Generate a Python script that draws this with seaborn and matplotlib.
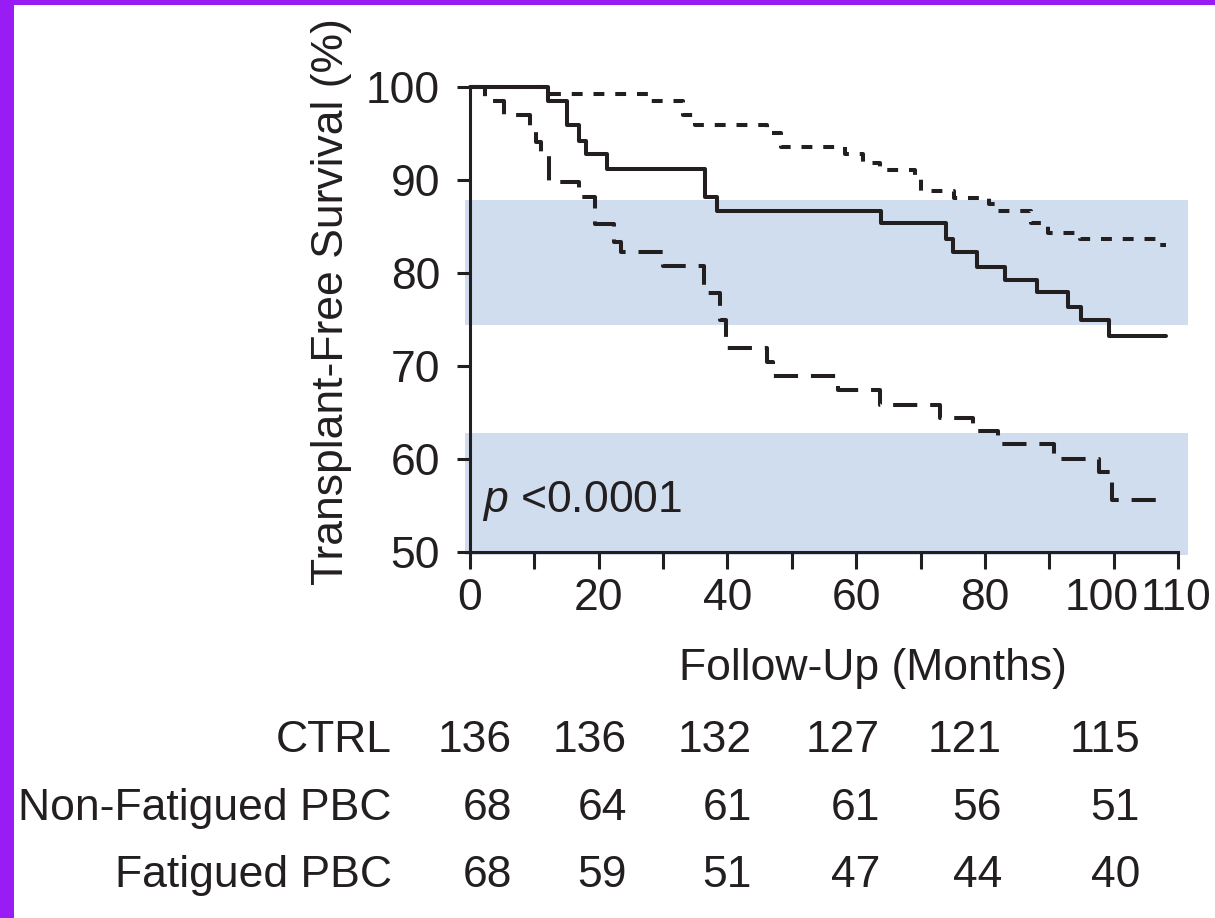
import matplotlib
matplotlib.use("Agg")
import matplotlib.pyplot as plt
import matplotlib.transforms as mtransforms
import seaborn as sns
from matplotlib.patches import Rectangle

# Kaplan-Meier step curves (months, % survival)
ctrl_time = [0, 12.1, 28.1, 33.1, 34.9, 46.1, 48.3, 58.2, 61.1, 63.7, 69.1, 70.0,
             75.2, 80.6, 82.0, 87.2, 89.8, 94.7, 107.1, 108.2]
ctrl_surv = [100, 99.2, 98.5, 97.0, 95.9, 95.0, 93.5, 92.8, 91.8, 91.1, 90.4, 88.8,
             88.1, 87.4, 86.7, 85.4, 84.3, 83.7, 83.0, 83.0]

nonfat_time = [0, 12.1, 15.1, 17.0, 18.0, 21.3, 36.5, 38.4, 63.8, 74.0, 75.0, 78.8,
               83.1, 88.1, 92.9, 95.0, 99.3, 108.2]
nonfat_surv = [100, 98.5, 95.9, 94.2, 92.8, 91.2, 88.2, 86.7, 85.4, 83.7, 82.3, 80.6,
               79.3, 78.0, 76.3, 74.9, 73.2, 73.2]

fat_time = [0, 2.3, 5.3, 9.3, 10.2, 11.1, 12.2, 17.0, 19.4, 22.4, 23.5, 30.0, 36.4,
            38.8, 39.7, 46.1, 47.0, 57.1, 63.7, 73.0, 78.2, 82.0, 90.8, 97.8, 99.7, 108.2]
fat_surv = [100, 98.5, 97.0, 95.6, 94.1, 92.7, 89.8, 88.2, 85.3, 83.3, 82.3, 80.7, 77.9,
            75.0, 71.9, 70.4, 68.9, 67.4, 65.8, 64.4, 63.0, 61.6, 60.0, 58.6, 55.6, 55.6]

# shaded bands (y ranges)
band_ranges = [(74.4, 87.9), (49.7, 62.8)]

x_ticks = [0, 10, 20, 30, 40, 50, 60, 70, 80, 90, 100, 110]
x_tick_labels = ["0", "", "20", "", "40", "", "60", "", "80", "", "100", "110"]
y_ticks = [50, 60, 70, 80, 90, 100]

# number at risk table
risk_groups = ["CTRL", "Non-Fatigued PBC", "Fatigued PBC"]
risk_ctrl = [136, 136, 132, 127, 121, 115]
risk_nonfat = [68, 64, 61, 61, 56, 51]
risk_fat = [68, 59, 51, 47, 44, 40]

ink = "#231f20"
band_col = "#d0ddee"

sns.set_theme(style="ticks")
plt.rcParams["font.family"] = ["Liberation Sans", "DejaVu Sans"]
plt.rcParams["mathtext.fontset"] = "custom"
plt.rcParams["mathtext.it"] = "Liberation Sans:italic"
plt.rcParams["mathtext.rm"] = "Liberation Sans"
fs = 32

W, H = 1215, 918
fig = plt.figure(figsize=(W / 100, H / 100), dpi=100)
fig.patch.set_facecolor("#9a1cf5")
# white page inside the purple frame
fig.patches.append(Rectangle((14 / W, 0), 1, 1 - 5 / H, transform=fig.transFigure,
                             facecolor="white", edgecolor="none", zorder=-10))

ax = fig.add_axes([470 / W, 1 - 552 / H, 708 / W, 465 / H])
ax.patch.set_alpha(0)

for lo, hi in band_ranges:
    ax.fill_between([-0.8, 111.6], lo, hi, color=band_col, lw=0, zorder=0, clip_on=False)

curves = [
    (ctrl_time, ctrl_surv, (0, (2.7, 2.7))),
    (nonfat_time, nonfat_surv, "-"),
    (fat_time, fat_surv, (0, (6.0, 3.2))),
]
for t, s, ls in curves:
    sns.lineplot(x=t, y=s, ax=ax, drawstyle="steps-post", estimator=None, sort=False,
                 color=ink, lw=2.9, linestyle=ls, clip_on=False, zorder=3)

ax.set_xlim(0, 110)
ax.set_ylim(50, 100)
ax.set_xticks(x_ticks)
ax.set_xticklabels(x_tick_labels)
ax.set_yticks(y_ticks)
ax.tick_params(axis="x", length=12, width=2.2, color=ink, pad=7, labelsize=fs, labelcolor=ink)
ax.tick_params(axis="y", length=9.5, width=2.2, color=ink, pad=12, labelsize=fs, labelcolor=ink)
sns.despine(ax=ax)
for side in ["left", "bottom"]:
    ax.spines[side].set_linewidth(2.2)
    ax.spines[side].set_color(ink)

# nudge the crowded 100 / 110 labels apart
xlabels = ax.get_xticklabels()
for lab, dx in [(xlabels[10], -12), (xlabels[11], -2)]:
    lab.set_transform(lab.get_transform() + mtransforms.ScaledTranslation(dx / 100, 0, fig.dpi_scale_trans))

ax.set_xlabel("Follow-Up (Months)", fontsize=fs, color=ink, va="baseline")
ax.xaxis.set_label_coords((873 - 470) / 708, (552 - 680) / 465)
ax.set_ylabel("Transplant-Free Survival (%)", fontsize=fs, color=ink, va="center")
ax.yaxis.set_label_coords((332 - 470) / 708, (552 - 302) / 465)

ax.text(1.9, 55.5, r"$p$ <0.0001", fontsize=fs, color=ink, va="center", ha="left")

# at-risk table
col_right = [512, 627, 752, 880, 1002, 1140]
row_base = [752, 820, 887]
for lab, vals, yb in zip(risk_groups, [risk_ctrl, risk_nonfat, risk_fat], row_base):
    fig.text(392 / W, 1 - yb / H, lab, fontsize=fs, color=ink, ha="right", va="baseline")
    for v, xr in zip(vals, col_right):
        fig.text(xr / W, 1 - yb / H, str(v), fontsize=fs, color=ink, ha="right", va="baseline")

fig.savefig("out.png", dpi=100, facecolor=fig.get_facecolor())
